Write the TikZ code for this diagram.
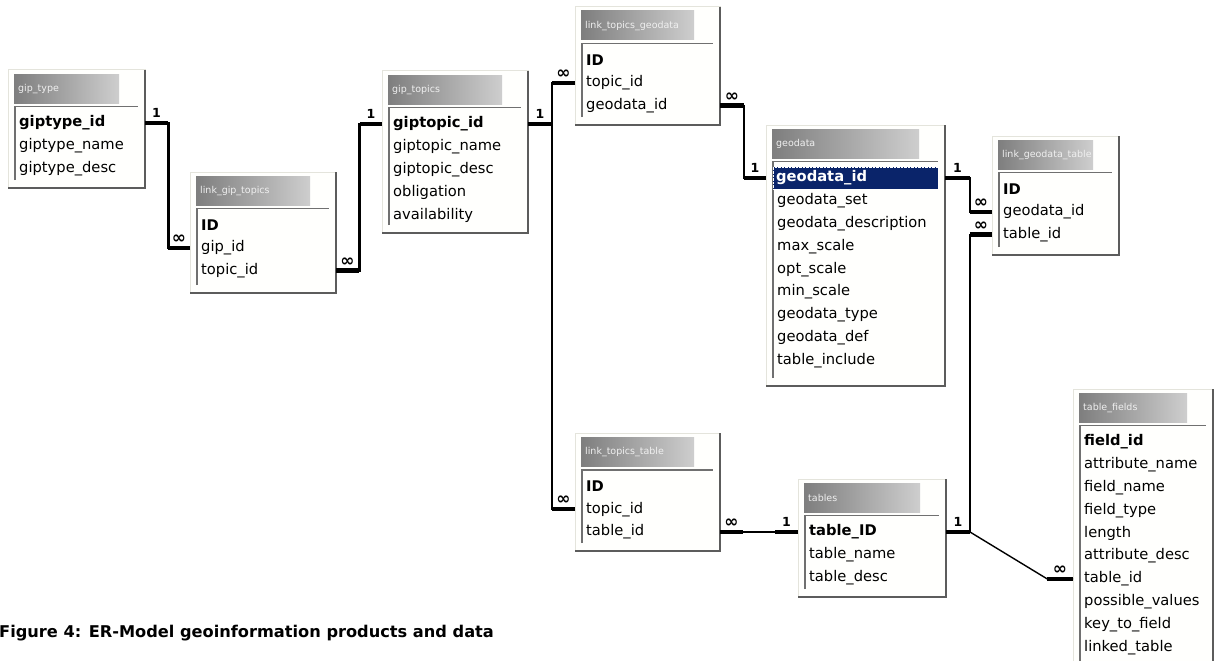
\documentclass[tikz,border=0pt]{standalone}
\usepackage{fontspec}
\setmainfont{DejaVu Sans}
\usetikzlibrary{calc}

\definecolor{boxbg}{HTML}{FFFFFD}
\definecolor{framelight}{HTML}{E4E4DC}
\definecolor{shadowgray}{HTML}{5C5C5C}
\definecolor{titledark}{HTML}{7E7E7E}
\definecolor{titlelight}{HTML}{CECECE}
\definecolor{sunkengray}{HTML}{707070}
\definecolor{selblue}{HTML}{0A246A}

\tikzset{
  tableframe/.style={draw=framelight, fill=boxbg, line width=1pt, inner sep=0pt, outer sep=0pt},
  shadowline/.style={draw=shadowgray, line width=2.5pt},
  sunken/.style={draw=sunkengray, line width=1.6pt},
  rowtxt/.style={anchor=west, inner sep=0pt, font=\fontsize{14.7}{16}\selectfont},
  keytxt/.style={rowtxt, font=\fontsize{14.7}{16}\selectfont\bfseries},
  keysel/.style={keytxt, xshift=-4pt, inner xsep=3pt, text width=159pt, minimum height=22pt,
    fill=selblue, text=white, draw=white, densely dotted},
  titletxt/.style={anchor=west, inner sep=0pt, text=white!88!gray, font=\fontsize{9.5}{12}\selectfont},
  stub/.style={line width=4.5pt},
  rel/.style={line width=1.4pt},
  relthick/.style={line width=3pt},
  one/.style={font=\fontsize{12.5}{14}\selectfont\bfseries, inner sep=1pt},
  many/.style={font=\fontsize{17}{18}\selectfont\bfseries, inner sep=0pt},
  caption/.style={anchor=west, inner sep=0pt, font=\fontsize{16.2}{19}\selectfont\bfseries},
}

% [key style] name, x0, y0, x1, y1, title, key row, other rows
\newcommand\ertable[9][keytxt]{%
  \node[tableframe, anchor=north west, minimum width=#5-#3, minimum height=#6-#4] (#2) at (#3,#4) {};
  \draw[shadowline] (#2.north east) -- (#2.south east) -- (#2.south west);
  \shade[left color=titledark, right color=titlelight] (#3+6,#4+4) rectangle (#5-26,#4+33);
  \node[titletxt] (#2-title) at (#3+10,#4+19) {#7};
  \draw[sunken] (#3+7,#6-8) |- (#5-7,#4+36.5);
  \node[#1] (#2-1) at (#3+11,#4+53) {#8};
  \foreach \t [count=\i from 2] in {#9}
    \node[rowtxt] (#2-\i) at (#3+11,#4+53+22.8*\i-22.8) {\t};
}

\begin{document}
\begin{tikzpicture}[x=1pt, y=-1pt]
  \useasboundingbox (0,0) rectangle (1215,661);
  \fill[white] (0,0) rectangle (1215,661);
  \clip (0,0) rectangle (1215,661);

  % tables
  \ertable{gtype}{8}{70}{145}{188}{gip\_type}{giptype\_id}{giptype\_name, giptype\_desc}
  \ertable{lgip}{190}{172}{336}{293}{link\_gip\_topics}{ID}{gip\_id, topic\_id}
  \ertable{gtopics}{382}{71}{528}{233}{gip\_topics}{giptopic\_id}{giptopic\_name, giptopic\_desc, obligation, availability}
  \ertable{ltgeo}{575}{7}{720}{125}{link\_topics\_geodata}{ID}{topic\_id, geodata\_id}
  \ertable[keysel]{geo}{766}{125}{945}{386}{geodata}{geodata\_id}{geodata\_set, geodata\_description, max\_scale, opt\_scale, min\_scale, geodata\_type, geodata\_def, table\_include}
  \ertable{lgtab}{992}{136}{1119}{255}{link\_geodata\_table}{ID}{geodata\_id, table\_id}
  \ertable{lttab}{575}{433.4}{720}{551}{link\_topics\_table}{ID}{topic\_id, table\_id}
  \ertable{tbl}{798}{479}{946}{597}{tables}{table\_ID}{table\_name, table\_desc}
  \ertable{tfields}{1073}{389}{1213}{690}{table\_fields}{field\_id}{attribute\_name, field\_name, field\_type, length, attribute\_desc, table\_id, possible\_values, key\_to\_field, linked\_table}

  % gip_type -- link_gip_topics
  \draw[relthick] (gtype.east |- gtype-1) -- ++(23,0) |- (lgip.west |- lgip-2);
  \draw[stub] (gtype.east |- gtype-1) -- ++(23,0) node[one, midway, above=2.5pt] {1};
  \draw[stub] (lgip.west |- lgip-2) -- ++(-22,0) node[many, midway, above=2pt] {∞};

  % link_gip_topics -- gip_topics
  \draw[relthick] (lgip.east |- lgip-3) -- ++(23,0) |- (gtopics.west |- gtopics-1);
  \draw[stub] (lgip.east |- lgip-3) -- ++(23,0) node[many, midway, above=2pt] {∞};
  \draw[stub] (gtopics.west |- gtopics-1) -- ++(-22,0) node[one, midway, above=2.5pt] {1};

  % gip_topics -- link_topics_geodata / link_topics_table
  \draw[rel] (gtopics.east |- gtopics-1) -- ++(24,0) |- (ltgeo.west |- ltgeo-2);
  \draw[rel] (gtopics.east |- gtopics-1) -- ++(24,0) |- (lttab.west |- lttab-2);
  \draw[stub] (gtopics.east |- gtopics-1) -- ++(24,0) node[one, midway, above=2.5pt] {1};
  \draw[stub] (ltgeo.west |- ltgeo-2) -- ++(-23,0) node[many, midway, above=2pt] {∞};
  \draw[stub] (lttab.west |- lttab-2) -- ++(-23,0) node[many, midway, above=2pt] {∞};

  % link_topics_geodata -- geodata
  \draw[rel] (ltgeo.east |- ltgeo-3) -- ++(24,0) |- (geo.west |- geo-1);
  \draw[stub] (ltgeo.east |- ltgeo-3) -- ++(24,0) node[many, midway, above=2pt] {∞};
  \draw[stub] (geo.west |- geo-1) -- ++(-22,0) node[one, midway, above=2.5pt] {1};

  % geodata -- link_geodata_table
  \draw[rel] (geo.east |- geo-1) -- ++(25,0) |- (lgtab.west |- lgtab-2);
  \draw[stub] (geo.east |- geo-1) -- ++(25,0) node[one, midway, above=2.5pt] {1};
  \draw[stub] (lgtab.west |- lgtab-2) -- ++(-22,0) node[many, midway, above=2pt] {∞};

  % tables -- link_geodata_table / table_fields
  \draw[rel] (tbl.east |- tbl-1) -- ++(24,0) |- (lgtab.west |- lgtab-3);
  \draw[rel] (tbl.east |- tbl-1) -- ++(24,0) -- ($(tfields.west |- tfields-7)+(-26,0)$) -- (tfields.west |- tfields-7);
  \draw[stub] (tbl.east |- tbl-1) -- ++(24,0) node[one, midway, above=2.5pt] {1};
  \draw[stub] (lgtab.west |- lgtab-3) -- ++(-22,0) node[many, midway, above=2pt] {∞};
  \draw[stub] (tfields.west |- tfields-7) -- ++(-26,0) node[many, midway, above=2pt] {∞};

  % link_topics_table -- tables
  \draw[rel] (lttab.east |- lttab-3) -- (tbl.west |- tbl-1);
  \draw[stub] (lttab.east |- lttab-3) -- ++(23,0) node[many, midway, above=2pt] {∞};
  \draw[stub] (tbl.west |- tbl-1) -- ++(-23,0) node[one, midway, above=2.5pt] {1};

  \node[caption] (figcap) at (-1,633) {Figure 4: ER-Model geoinformation products and data};
\end{tikzpicture}
\end{document}
